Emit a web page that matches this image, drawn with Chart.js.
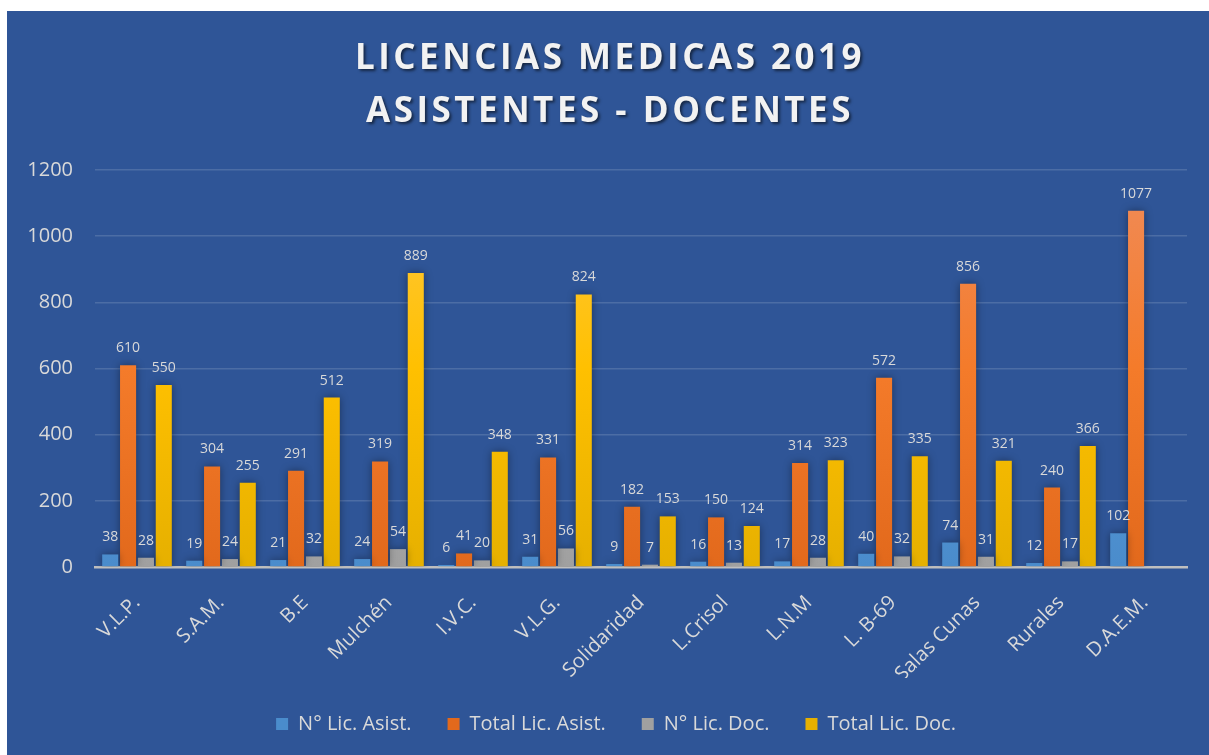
<!DOCTYPE html>
<html>
<head>
<meta charset="utf-8">
<script src="https://cdn.jsdelivr.net/npm/chart.js@4.4.1/dist/chart.umd.min.js"></script>
<style>
  html, body { margin: 0; padding: 0; background: #fff; }
  .panel {
    position: absolute; left: 7px; top: 11px;
    width: 1202px; height: 744px;
    background: #2f5597;
  }
</style>
</head>
<body>
<div class="panel">
  <canvas id="licChart" width="1202" height="744"></canvas>
</div>
<script>
const categories = ['V.L.P.', 'S.A.M.', 'B.E', 'Mulchén', 'I.V.C.', 'V.L.G.', 'Solidaridad',
  'L.Crisol', 'L.N.M', 'L. B-69', 'Salas Cunas', 'Rurales', 'D.A.E.M.'];
const nLicAsist = [38, 19, 21, 24, 6, 31, 9, 16, 17, 40, 74, 12, 102];
const totalLicAsist = [610, 304, 291, 319, 41, 331, 182, 150, 314, 572, 856, 240, 1077];
const nLicDoc = [28, 24, 32, 54, 20, 56, 7, 13, 28, 32, 31, 17, null];
const totalLicDoc = [550, 255, 512, 889, 348, 824, 153, 124, 323, 335, 321, 366, null];
const yTicks = [0, 200, 400, 600, 800, 1000, 1200];
const titleLines = ['LICENCIAS MEDICAS 2019', 'ASISTENTES - DOCENTES'];

const textGray = '#d9d9d9';
const fontFam = "'Open Sans', sans-serif";

// vertical gradient for each bar series
function barGradient(top, mid, bottom) {
  return (c) => {
    const area = c.chart.chartArea;
    if (!area) return mid;
    const el = c.element;
    const y0 = el && el.y !== undefined ? el.y : area.top;
    const y1 = el && el.base !== undefined ? el.base : area.bottom;
    if (!isFinite(y0) || !isFinite(y1) || y0 === y1) return mid;
    const g = c.chart.ctx.createLinearGradient(0, y0, 0, y1);
    g.addColorStop(0, top);
    g.addColorStop(0.5, mid);
    g.addColorStop(1, bottom);
    return g;
  };
}

// soft shadow behind the bars
const barShadow = {
  id: 'barShadow',
  beforeDatasetsDraw(chart) {
    const ctx = chart.ctx;
    ctx.save();
    ctx.shadowColor = 'rgba(0, 0, 0, 0.4)';
    ctx.shadowBlur = 8;
  },
  afterDatasetsDraw(chart) {
    chart.ctx.restore();
  }
};

// value labels above each bar
const valueLabels = {
  id: 'valueLabels',
  afterDatasetsDraw(chart) {
    const ctx = chart.ctx;
    ctx.save();
    ctx.font = '14px ' + fontFam;
    ctx.fillStyle = textGray;
    ctx.textAlign = 'center';
    ctx.textBaseline = 'bottom';
    chart.data.datasets.forEach((ds, i) => {
      const meta = chart.getDatasetMeta(i);
      meta.data.forEach((bar, j) => {
        const v = ds.data[j];
        if (v === null || v === undefined) return;
        ctx.fillText(String(v), bar.x, bar.y - 10);
      });
    });
    ctx.restore();
  }
};

// spaced-out title with a drop shadow
const spacedTitle = {
  id: 'spacedTitle',
  afterDraw(chart) {
    const ctx = chart.ctx;
    ctx.save();
    ctx.font = 'bold 35px ' + fontFam;
    ctx.letterSpacing = '3.5px';
    ctx.fillStyle = '#f2f2f2';
    ctx.textAlign = 'center';
    ctx.textBaseline = 'middle';
    ctx.shadowColor = 'rgba(0, 0, 0, 0.55)';
    ctx.shadowBlur = 3;
    ctx.shadowOffsetX = 2;
    ctx.shadowOffsetY = 2;
    const cx = chart.width / 2 + 2;
    titleLines.forEach((line, i) => {
      ctx.fillText(line, cx, 48 + i * 53);
    });
    ctx.restore();
  }
};

// nudge the legend row so it sits centred under the whole panel
const legendShift = {
  id: 'legendShift',
  beforeDraw(chart) {
    if (chart.legend) {
      chart.legend.left += 19;
      chart.legend.right += 19;
    }
  }
};

const ctx = document.getElementById('licChart').getContext('2d');

new Chart(ctx, {
  type: 'bar',
  data: {
    labels: categories,
    datasets: [
      {
        label: 'N° Lic. Asist.',
        data: nLicAsist,
        backgroundColor: barGradient('#78b0e3', '#5b9bd5', '#4a8ccc')
      },
      {
        label: 'Total Lic. Asist.',
        data: totalLicAsist,
        backgroundColor: barGradient('#f08c5a', '#f47b2a', '#e2691c')
      },
      {
        label: 'N° Lic. Doc.',
        data: nLicDoc,
        backgroundColor: barGradient('#c4c4c4', '#b0b0b0', '#a0a0a0')
      },
      {
        label: 'Total Lic. Doc.',
        data: totalLicDoc,
        backgroundColor: barGradient('#ffc845', '#ffc000', '#e6b000')
      }
    ]
  },
  options: {
    responsive: false,
    animation: false,
    datasets: {
      bar: { categoryPercentage: 0.85, barPercentage: 0.9 }
    },
    layout: { padding: { left: 0, right: 22, top: 159, bottom: 11 } },
    scales: {
      y: {
        min: 0,
        max: 1200,
        afterBuildTicks: (scale) => { scale.ticks = yTicks.map(v => ({ value: v })); },
        afterFit: (scale) => { scale.width = 88; },
        grid: { color: 'rgba(255, 255, 255, 0.14)', lineWidth: 1.5, drawTicks: false },
        border: { display: false },
        ticks: {
          color: textGray,
          padding: 22,
          font: { family: fontFam, size: 20 },
          callback: (v) => String(v)
        }
      },
      x: {
        afterFit: (scale) => { scale.height = 111; },
        grid: { display: false, drawTicks: false },
        border: { display: true, color: '#bfbfbf', width: 2.5 },
        ticks: {
          color: textGray,
          padding: 24,
          minRotation: 45,
          maxRotation: 45,
          autoSkip: false,
          font: { family: fontFam, size: 20 }
        }
      }
    },
    plugins: {
      title: { display: false },
      legend: {
        position: 'bottom',
        labels: {
          color: textGray,
          boxWidth: 12,
          boxHeight: 12,
          padding: 36,
          font: { family: fontFam, size: 20 }
        }
      },
      tooltip: { enabled: false }
    }
  },
  plugins: [barShadow, valueLabels, spacedTitle, legendShift]
});
</script>
</body>
</html>
